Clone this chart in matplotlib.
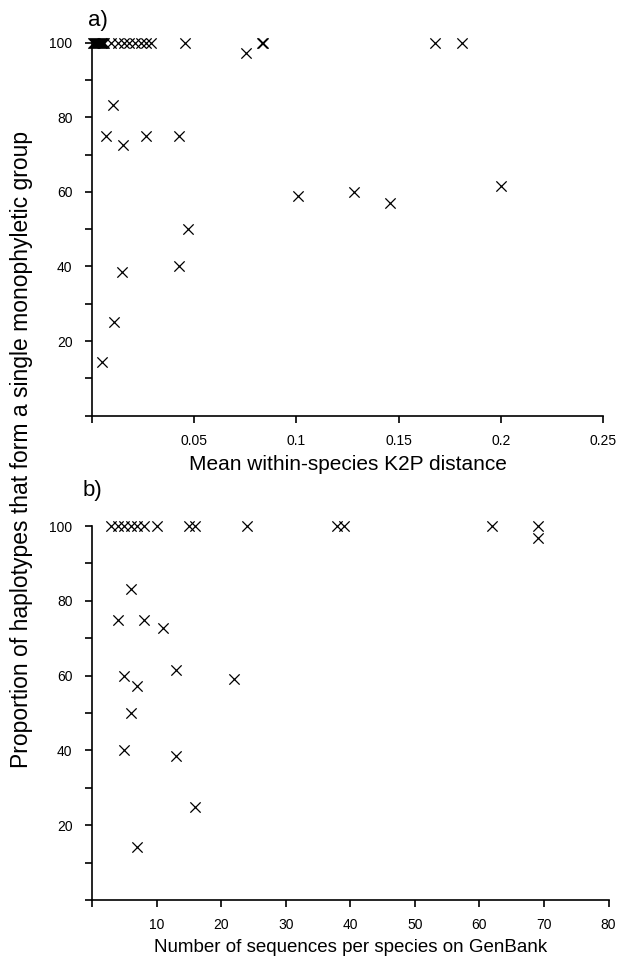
import matplotlib
matplotlib.use("Agg")
import matplotlib.pyplot as plt
from matplotlib.ticker import MultipleLocator, FixedLocator

plt.rcParams["font.family"] = ["Liberation Sans", "DejaVu Sans"]

# panel a: mean within-species K2P distance vs % haplotypes monophyletic
K2P_DIST = [
    0.0005, 0.001, 0.0015, 0.002, 0.0025, 0.003, 0.0035, 0.004, 0.0045,
    0.005, 0.0055, 0.006, 0.0095, 0.0125, 0.0155, 0.018, 0.021, 0.024,
    0.0265, 0.029, 0.0457, 0.0833, 0.0835, 0.168, 0.181,
    0.0756, 0.0104, 0.007, 0.015, 0.0264, 0.0424, 0.101, 0.128, 0.146,
    0.2, 0.047, 0.0146, 0.0427, 0.0107, 0.0048,
]
K2P_PROP = [
    100, 100, 100, 100, 100, 100, 100, 100, 100,
    100, 100, 100, 100, 100, 100, 100, 100, 100,
    100, 100, 100, 100, 100, 100, 100,
    97.2, 83.3, 75, 72.7, 75, 75, 59, 60, 57.1,
    61.5, 50, 38.5, 40, 25, 14.3,
]

# panel b: number of GenBank sequences vs % haplotypes monophyletic
N_SEQS = [
    3, 4, 5, 6, 7, 8, 10, 15, 16, 24, 38, 39, 62, 69,
    69, 6, 4, 8, 11, 13, 5, 7, 22, 6, 5, 13, 16, 7,
]
N_PROP = [
    100, 100, 100, 100, 100, 100, 100, 100, 100, 100, 100, 100, 100, 100,
    96.7, 83.3, 75, 75, 72.7, 61.5, 60, 57.1, 59.1, 50, 40, 38.5, 25, 14.3,
]


def style_axes(ax):
    ax.spines["top"].set_visible(False)
    ax.spines["right"].set_visible(False)
    for side in ("left", "bottom"):
        ax.spines[side].set_linewidth(1.2)
    ax.set_ylim(0, 100)
    ax.yaxis.set_major_locator(FixedLocator([20, 40, 60, 80, 100]))
    ax.yaxis.set_minor_locator(MultipleLocator(10))
    ax.tick_params(axis="both", which="both", direction="out", length=5,
                   width=1.2, color="black")
    ax.tick_params(axis="y", pad=9, labelsize=10)
    ax.tick_params(axis="x", pad=8, labelsize=10)


fig = plt.figure(figsize=(6.28, 9.6), dpi=100)

ax1 = fig.add_axes([0.1465, 0.567, 0.8135, 0.3885])
ax1.scatter(K2P_DIST, K2P_PROP, marker="x", s=55, color="black",
            linewidths=0.9, clip_on=False, zorder=3)
style_axes(ax1)
ax1.set_xlim(0, 0.25)
ax1.set_xticks([0, 0.05, 0.1, 0.15, 0.2, 0.25])
ax1.set_xticklabels(["", "0.05", "0.1", "0.15", "0.2", "0.25"])
ax1.set_xlabel("Mean within-species K2P distance", fontsize=15, labelpad=5)
fig.text(0.14, 0.979, "a)", fontsize=16, va="center", ha="left")

ax2 = fig.add_axes([0.1465, 0.0625, 0.8225, 0.3895])
ax2.scatter(N_SEQS, N_PROP, marker="x", s=55, color="black",
            linewidths=0.9, clip_on=False, zorder=3)
style_axes(ax2)
ax2.set_xlim(0, 80)
ax2.set_xticks(range(0, 81, 10))
ax2.set_xticklabels([""] + [str(v) for v in range(10, 81, 10)])
ax2.set_xlabel("Number of sequences per species on GenBank", fontsize=13.5,
               labelpad=5)
fig.text(0.131, 0.489, "b)", fontsize=16, va="center", ha="left")

fig.text(0.035, 0.532, "Proportion of haplotypes that form a single monophyletic group",
         rotation=90, fontsize=16.5, va="center", ha="center")

fig.savefig("out.png", dpi=100)
